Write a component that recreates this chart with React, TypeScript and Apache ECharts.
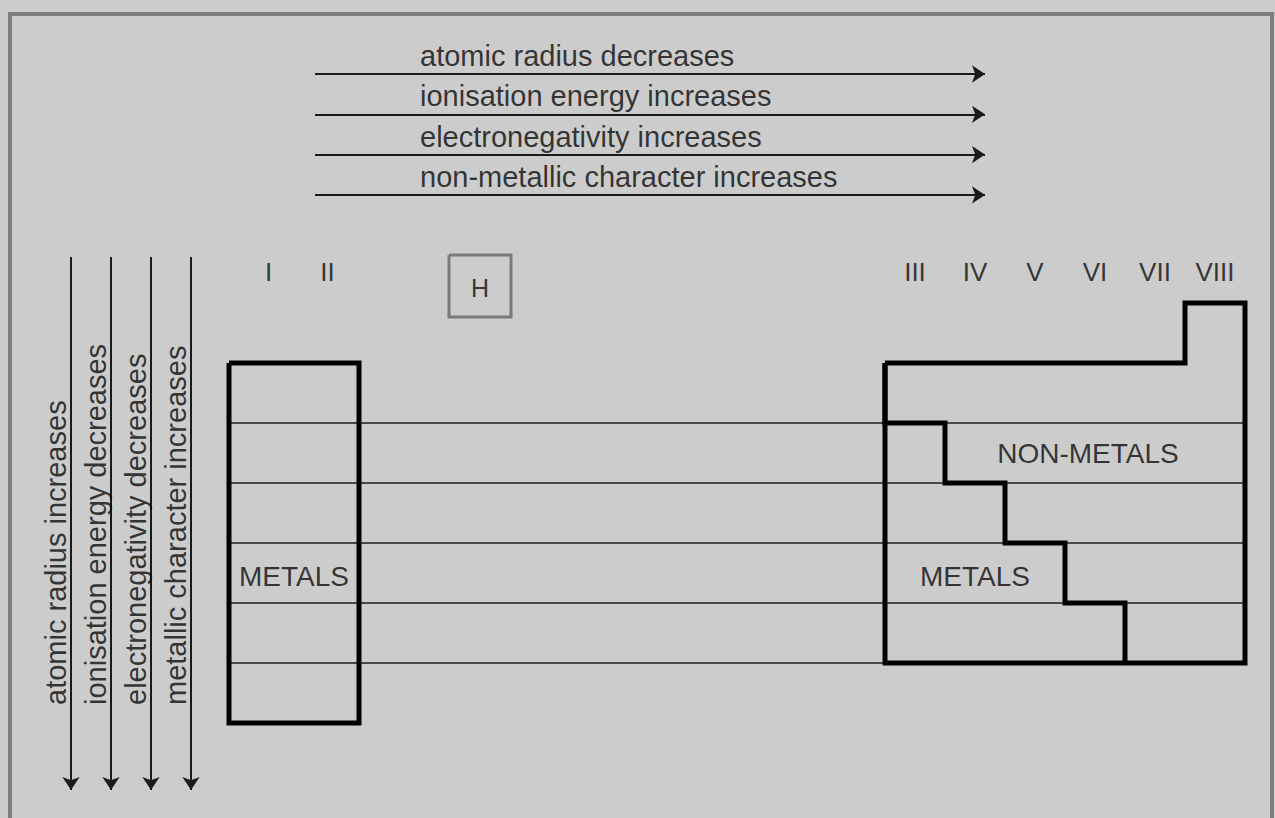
import React, { useEffect, useRef } from "react";
import * as echarts from "echarts";

// ---------- data ----------
const LEFT_GROUPS = ["I", "II"];
const RIGHT_GROUPS = ["III", "IV", "V", "VI", "VII", "VIII"];
const LEFT_BLOCK_PERIODS = [2, 7]; // first, last period of groups I–II
const RIGHT_BLOCK_PERIODS = [2, 6]; // first, last period of groups III–VIII
const NOBLE_GAS_FIRST_PERIOD = 1; // group VIII starts one period earlier
const DIVIDER_PERIODS = [3, 4, 5, 6, 7]; // thin lines on top of these periods
const STAIR_PERIODS = [2, 3, 4, 5, 6];
const METAL_COLS_PER_PERIOD = [0, 1, 2, 3, 4]; // metallic columns of groups III–VIII
const ROW_TRENDS = [
  "atomic radius decreases",
  "ionisation energy increases",
  "electronegativity increases",
  "non-metallic character increases",
];
const COLUMN_TRENDS = [
  "atomic radius increases",
  "ionisation energy decreases",
  "electronegativity decreases",
  "metallic character increases",
];
const HYDROGEN = "H";
const METALS_LABEL = "METALS";
const NON_METALS_LABEL = "NON-METALS";

// ---------- layout ----------
const W = 1275;
const H = 818;
const LAY = {
  leftX0: 229,
  leftColW: 65,
  rightX0: 885,
  colW: 60,
  rowY0: 303,
  rowH: 60,
  hArrowX0: 315,
  hArrowX1: 985,
  hArrowY0: 74,
  hArrowGap: 40.3,
  hTextX: 420,
  hTextDy: -18,
  vArrowX0: 71,
  vArrowGap: 40,
  vArrowY0: 257,
  vArrowY1: 790,
  vTextDx: -15,
  vTextY: 705,
  groupLabelY: 272,
  hBoxX: 449,
  hBoxY: 255,
  hBoxSize: 62,
};
const FONT = "'Liberation Sans', Arial, sans-serif";
const INK = "#0a0a0a";

const rowTop = (p: number) => LAY.rowY0 + (p - 1) * LAY.rowH;
const leftX = (c: number) => LAY.leftX0 + c * LAY.leftColW;
const rightX = (c: number) => LAY.rightX0 + c * LAY.colW;

// ---------- geometry built from data ----------
const leftTop = rowTop(LEFT_BLOCK_PERIODS[0]);
const leftBottom = rowTop(LEFT_BLOCK_PERIODS[1] + 1);
const leftOutline = [
  [leftX(0), leftTop],
  [leftX(LEFT_GROUPS.length), leftTop],
  [leftX(LEFT_GROUPS.length), leftBottom],
  [leftX(0), leftBottom],
  [leftX(0), leftTop],
];

const nR = RIGHT_GROUPS.length;
const rTop = rowTop(RIGHT_BLOCK_PERIODS[0]);
const rBottom = rowTop(RIGHT_BLOCK_PERIODS[1] + 1);
const nobleTop = rowTop(NOBLE_GAS_FIRST_PERIOD);
const rightOutline = [
  [rightX(0), rTop],
  [rightX(nR - 1), rTop],
  [rightX(nR - 1), nobleTop],
  [rightX(nR), nobleTop],
  [rightX(nR), rBottom],
  [rightX(0), rBottom],
  [rightX(0), rTop],
];

const stair: number[][] = [];
STAIR_PERIODS.forEach((p, i) => {
  const c = METAL_COLS_PER_PERIOD[i];
  stair.push([rightX(c), rowTop(p)]);
  stair.push([rightX(c), rowTop(p + 1)]);
});

const dividers = DIVIDER_PERIODS.map((p) => ({
  coords: [
    [leftX(0), rowTop(p)],
    [rightX(nR), rowTop(p)],
  ],
}));

const hArrows = ROW_TRENDS.map((_, i) => ({
  coords: [
    [LAY.hArrowX0, LAY.hArrowY0 + i * LAY.hArrowGap],
    [LAY.hArrowX1, LAY.hArrowY0 + i * LAY.hArrowGap],
  ],
}));
const vArrows = COLUMN_TRENDS.map((_, i) => ({
  coords: [
    [LAY.vArrowX0 + i * LAY.vArrowGap, LAY.vArrowY0],
    [LAY.vArrowX0 + i * LAY.vArrowGap, LAY.vArrowY1],
  ],
}));

const hBox = [
  [LAY.hBoxX, LAY.hBoxY],
  [LAY.hBoxX + LAY.hBoxSize, LAY.hBoxY],
  [LAY.hBoxX + LAY.hBoxSize, LAY.hBoxY + LAY.hBoxSize],
  [LAY.hBoxX, LAY.hBoxY + LAY.hBoxSize],
  [LAY.hBoxX, LAY.hBoxY],
];

const textSeries = (
  items: { name: string; value: number[] }[],
  opts: any
) => ({
  type: "scatter",
  silent: true,
  symbolSize: 1,
  itemStyle: { color: "transparent" },
  data: items,
  label: {
    show: true,
    position: "inside",
    formatter: "{b}",
    color: INK,
    fontFamily: FONT,
    fontSize: 28,
    verticalAlign: "middle",
    align: "center",
    textBorderWidth: 0,
    ...opts,
  },
  z: 5,
});

const groupLabels = [
  ...LEFT_GROUPS.map((g, i) => ({
    name: g,
    value: [(leftX(i) + leftX(i + 1)) / 2 + (i === 0 ? 7 : 1), LAY.groupLabelY],
  })),
  ...RIGHT_GROUPS.map((g, i) => ({
    name: g,
    value: [(rightX(i) + rightX(i + 1)) / 2, LAY.groupLabelY],
  })),
];

const regionLabels = [
  { name: METALS_LABEL, value: [(leftX(0) + leftX(2)) / 2, rowTop(5) + LAY.rowH / 2 + 3] },
  { name: METALS_LABEL, value: [(rightX(0) + rightX(3)) / 2, rowTop(5) + LAY.rowH / 2 + 3] },
  { name: NON_METALS_LABEL, value: [(rightX(1) + rightX(6)) / 2 - 7, rowTop(3) + LAY.rowH / 2] },
];

const rowTrendLabels = ROW_TRENDS.map((t, i) => ({
  name: t,
  value: [LAY.hTextX, LAY.hArrowY0 + i * LAY.hArrowGap + LAY.hTextDy],
}));
const colTrendLabels = COLUMN_TRENDS.map((t, i) => ({
  name: t,
  value: [LAY.vArrowX0 + i * LAY.vArrowGap + LAY.vTextDx, LAY.vTextY],
}));

const option: any = {
  animation: false,
  backgroundColor: "#cccccc",
  grid: { left: 0, right: 0, top: 0, bottom: 0 },
  xAxis: { type: "value", min: 0, max: W, show: false },
  yAxis: { type: "value", min: 0, max: H, inverse: true, show: false },
  graphic: [
    {
      type: "rect",
      silent: true,
      shape: { x: 10, y: 14, width: 1262, height: 900 },
      style: { fill: "none", stroke: "#7e7e7e", lineWidth: 4 },
    },
  ],
  series: [
    {
      type: "lines",
      coordinateSystem: "cartesian2d",
      silent: true,
      lineStyle: { color: "#1e1e1e", width: 1.6, opacity: 1 },
      data: dividers,
      z: 2,
    },
    {
      type: "lines",
      coordinateSystem: "cartesian2d",
      polyline: true,
      silent: true,
      lineStyle: { color: "#000", width: 5, opacity: 1, join: "miter" },
      data: [{ coords: leftOutline }, { coords: rightOutline }, { coords: stair }],
      z: 3,
    },
    {
      type: "lines",
      coordinateSystem: "cartesian2d",
      polyline: true,
      silent: true,
      lineStyle: { color: "#7a7a7a", width: 3, opacity: 1, join: "miter" },
      data: [{ coords: hBox }],
      z: 3,
    },
    {
      type: "lines",
      coordinateSystem: "cartesian2d",
      silent: true,
      symbol: ["none", "arrow"],
      symbolSize: 13,
      lineStyle: { color: "#1a1a1a", width: 2, opacity: 1 },
      itemStyle: { color: "#1a1a1a" },
      data: [...hArrows, ...vArrows],
      z: 3,
    },
    textSeries(groupLabels, { fontSize: 26 }),
    textSeries(regionLabels, { fontSize: 28 }),
    textSeries(rowTrendLabels, { fontSize: 29, align: "left" }),
    textSeries(colTrendLabels, { fontSize: 29, align: "left", rotate: 90 }),
    textSeries(
      [{ name: HYDROGEN, value: [LAY.hBoxX + LAY.hBoxSize / 2, LAY.hBoxY + LAY.hBoxSize / 2 + 2] }],
      { fontSize: 25 }
    ),
  ],
};

export default function App() {
  const ref = useRef<HTMLDivElement>(null);
  useEffect(() => {
    const chart = echarts.init(ref.current!, null, { renderer: "svg" });
    chart.setOption(option);
    return () => chart.dispose();
  }, []);
  return (
    <div
      ref={ref}
      style={{ position: "absolute", left: 0, top: 0, width: W, height: H }}
    />
  );
}
